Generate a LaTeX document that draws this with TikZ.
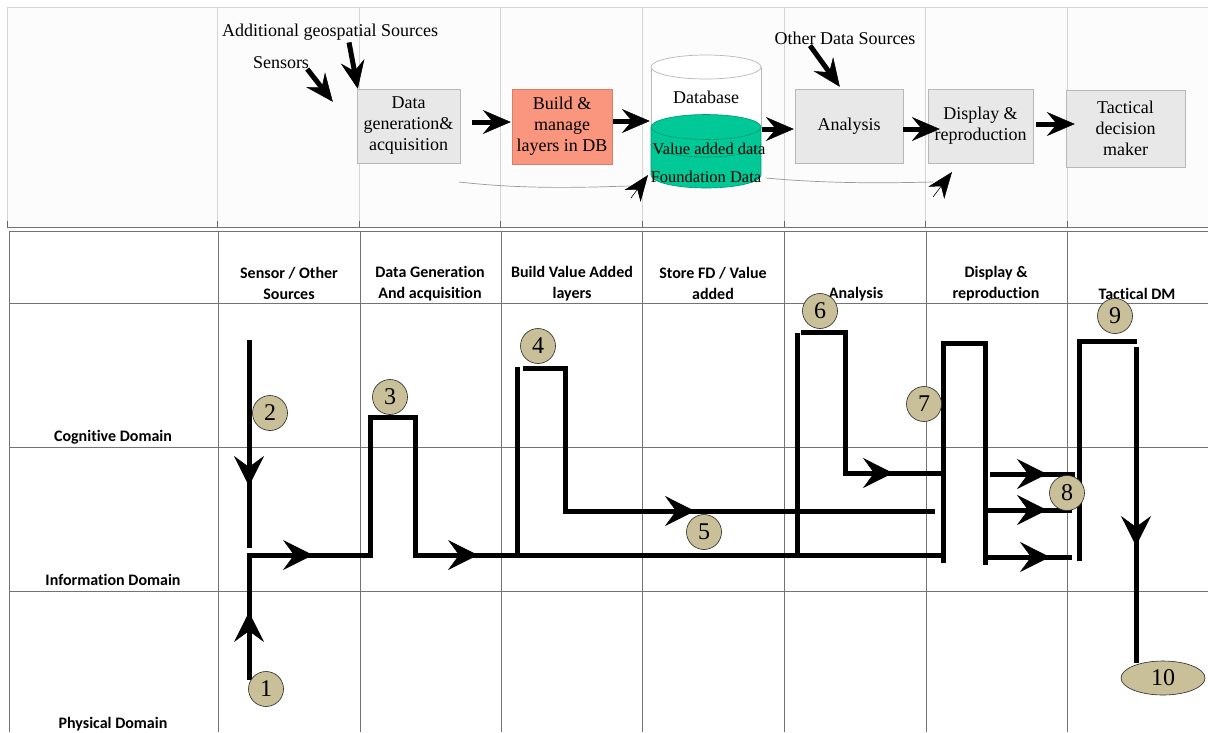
\documentclass[tikz,border=0pt]{standalone}
\usepackage{fontspec}
\setmainfont{Liberation Serif}
\newfontfamily\hdrfont{Carlito}[Ligatures=NoCommon]
\usetikzlibrary{arrows.meta,calc,shapes.geometric}
\definecolor{khaki}{RGB}{201,191,153}
\definecolor{salmon}{RGB}{250,150,125}
\definecolor{salmonedge}{RGB}{215,125,105}
\definecolor{dbgreen}{RGB}{0,200,150}
\definecolor{dbedge}{RGB}{0,150,110}
\definecolor{boxgrey}{RGB}{232,232,232}
\tikzset{
  topgrid/.style={draw=black!17, line width=0.8pt},
  grid/.style={draw=black!55, line width=0.9pt},
  procbox/.style={draw=black!28, fill=boxgrey, align=center, inner sep=0pt,
    font=\fontsize{18}{21}\selectfont},
  srclabel/.style={font=\fontsize{18}{21}\selectfont, inner sep=0pt},
  hdr/.style={font=\hdrfont\bfseries\fontsize{16}{21}\selectfont, align=center, inner sep=0pt},
  toparrow/.style={line width=5pt, -{Stealth[length=28pt,width=24pt,inset=10pt,line width=0.5pt]}},
  flow/.style={line width=5pt},
  flowtip/.style={line width=5pt, -{Stealth[length=30pt,width=30pt,inset=11pt,line width=0.5pt]}},
  thinlink/.style={line width=0.7pt, draw=black!40},
  linkhead/.style={line width=0.6pt, -{Stealth[length=26pt,width=20pt,inset=8pt,line width=0.5pt]}},
  num/.style={circle, draw=black!85, line width=0.6pt, fill=khaki, minimum size=35pt,
    inner sep=0pt, font=\fontsize{24}{24}\selectfont},
}
\begin{document}
\begin{tikzpicture}[x=1pt,y=-1pt]
\useasboundingbox (0,0) rectangle (1208,732);
\fill[white] (0,0) rectangle (1208,732);

% ---------- process overview panel ----------
\fill[black!1] (7,7) rectangle (1208,227);
\draw[topgrid] (7,227) -- (7,7) -- (1208,7);
\foreach \x in {217,359,500,642,784,925,1067}
  \draw[topgrid] (\x,7) -- (\x,227);
\draw[black!55, line width=1pt] (7,227) -- (1208,227);
\foreach \x in {7,217,359,500,642,784,925,1067}
  \draw[black!60, line width=1pt] (\x,221) -- (\x,227);

% ---------- domain table ----------
\foreach \y in {231,303,447,591}
  \draw[grid] (9,\y) -- (1208,\y);
\foreach \x in {9,218,360,501,642,784,926,1067}
  \draw[grid] (\x,231) -- (\x,732);

\node[hdr] (h1) at (289,283.5) {Sensor / Other\\Sources};
\node[hdr] (h2) at (430,283.5) {Data Generation\\And acquisition};
\node[hdr] (h3) at (572,283.5) {Build Value Added\\layers};
\node[hdr] (h4) at (713,283.5) {Store FD / Value\\added};
\node[hdr] (h5) at (856,294) {Analysis};
\node[hdr] (h6) at (996,283.5) {Display \&\\reproduction};
\node[hdr] (h7) at (1137,294) {Tactical DM};

\node[hdr] (dcog) at (113,437) {Cognitive Domain};
\node[hdr] (dinf) at (113,580) {Information Domain};
\node[hdr] (dphy) at (113,724) {Physical Domain};

% ---------- process boxes ----------
\node[procbox, minimum width=103pt, minimum height=74pt] (dga) at (408.5,126) {Data\\generation\&\\acquisition};
\node[procbox, fill=salmon, draw=salmonedge, minimum width=100pt, minimum height=75pt] (bml) at (562,126.5) {Build \&\\manage\\layers in DB};
\node[procbox, minimum width=108pt, minimum height=74pt] (ana) at (849,126) {Analysis};
\node[procbox, minimum width=105pt, minimum height=74pt] (dis) at (980.5,126) {Display \&\\reproduction};
\node[procbox, minimum width=119pt, minimum height=77pt] (tac) at (1125.5,128.5) {Tactical\\decision\\maker};

% database cylinder
\node[minimum width=110pt, minimum height=133pt, inner sep=0pt] (db) at (706,121.5) {};
\fill[white] (651,67) rectangle (761,127);
\draw[black!28, line width=0.7pt] (651,67) -- (651,127) (761,67) -- (761,127);
\draw[black!28, line width=0.7pt, fill=white] (706,67) ellipse [x radius=55pt, y radius=12pt];
\fill[dbgreen] (651,127) rectangle (761,175);
\fill[dbgreen] (706,175) ellipse [x radius=55pt, y radius=13pt];
\draw[dbedge, line width=0.6pt] (651,127) -- (651,175)
  arc[start angle=180, end angle=360, x radius=55pt, y radius=13pt] -- (761,127);
\draw[dbedge, line width=0.6pt] (651,144)
  arc[start angle=180, end angle=360, x radius=55pt, y radius=13pt];
\draw[dbedge, line width=0.6pt, fill=dbgreen] (706,127) ellipse [x radius=55pt, y radius=12.5pt];
\node[srclabel] (dbname) at (706,97) {Database};
\node[srclabel, font=\fontsize{16.5}{18}\selectfont] (dbvad) at (709,149) {Value added data};
\node[srclabel, font=\fontsize{16.5}{18}\selectfont] (dbfd) at (706,177) {Foundation Data};

% source labels
\node[srclabel] (addsrc) at (330,32) {Additional geospatial Sources};
\node[srclabel] (sens) at (281,63) {Sensors};
\node[srclabel] (oth) at (845,38) {Other Data Sources};

% process arrows
\draw[toparrow] ($(sens.east)+(-2,6)$) -- ($(dga.north west)+(-24,13)$);
\draw[toparrow] ($(addsrc.south)+(19,2)$) -- ($(dga.north west)+(1,0)$);
\draw[toparrow] ($(oth.south)+(-35,1)$) -- ($(ana.north west)+(45,-2)$);
\draw[toparrow] ($(dga.east)+(12,-4)$) -- ($(bml.west)+(-1,-4.5)$);
\draw[toparrow] ($(bml.east)+(1,-5.5)$) -- ($(db.west)+(-1,-0.5)$);
\draw[toparrow] ($(db.east)+(1,7.5)$) -- ($(ana.west)+(-1,3)$);
\draw[toparrow] ($(ana.east)+(0,3)$) -- ($(dis.west)+(12,3)$);
\draw[toparrow] ($(dis.east)+(3,-2)$) -- ($(tac.west)+(9,-4.5)$);

% thin feedback links with heads
\coordinate (l1s) at (459,182);
\coordinate (l1e) at (630,186);
\coordinate (l1h) at (631,198);
\coordinate (l1t) at (648,175);
\draw[thinlink] (l1s) .. controls (530,190) and (590,187) .. (l1e);
\draw[linkhead] (l1h) -- (l1t);
\coordinate (l2s) at (766,178);
\coordinate (l2e) at (933,182);
\coordinate (l2h) at (933,197);
\coordinate (l2t) at (952,172);
\draw[thinlink] (l2s) .. controls (830,184) and (890,183) .. (l2e);
\draw[linkhead] (l2h) -- (l2t);

% ---------- information flow ----------
% 1 -> 3 -> along the information domain
\coordinate (a0) at (249,680);
\coordinate (a1) at (249,555);
\coordinate (a2) at (370,555);
\coordinate (a3) at (370,417);
\coordinate (a4) at (415,417);
\coordinate (a5) at (415,555);
\coordinate (a6) at (945,555);
\draw[flow] (a0) -- (a1) -- (a2) -- (a3) -- (a4) -- (a5) -- (a6);
\coordinate (t1) at (249,612);
\coordinate (t2) at (313,555);
\coordinate (t3) at (478,555);
\draw[flowtip] (a0) -- (t1);
\draw[flowtip] (a1) -- (t2);
\draw[flowtip] (a5) -- (t3);

% 2
\coordinate (b0) at (249,340);
\coordinate (b1) at (249,548);
\coordinate (tb) at (249,486);
\draw[flow] (b0) -- (b1);
\draw[flowtip] (b0) -- (tb);

% 4 -> 5
\coordinate (c0) at (517,367);
\coordinate (c1) at (517,557);
\draw[flow] (c0) -- (c1);
\coordinate (d0) at (523,368);
\coordinate (d1) at (565,368);
\coordinate (d2) at (565,511);
\coordinate (d3) at (935,511);
\coordinate (td) at (695,511);
\draw[flow] (d0) -- (d1) -- (d2) -- (d3);
\draw[flowtip] (d2) -- (td);

% 6
\coordinate (e0) at (797,333);
\coordinate (e1) at (797,555);
\draw[flow] (e0) -- (e1);
\coordinate (f0) at (801,332);
\coordinate (f1) at (845,332);
\coordinate (f2) at (845,473);
\coordinate (f3) at (942,473);
\coordinate (tf) at (893,473);
\draw[flow] (f0) -- (f1) -- (f2) -- (f3);
\draw[flowtip] (f2) -- (tf);

% 7
\coordinate (g0) at (943,563);
\coordinate (g1) at (943,343);
\coordinate (g2) at (985,343);
\coordinate (g3) at (985,565);
\draw[flow] (g0) -- (g1) -- (g2) -- (g3);

% 7 -> 8
\coordinate (k1s) at (990,474);
\coordinate (k1e) at (1075,474);
\coordinate (k1t) at (1047,474);
\coordinate (k2s) at (985,510);
\coordinate (k2e) at (1072,510);
\coordinate (k2t) at (1047,510);
\coordinate (k3s) at (985,557);
\coordinate (k3e) at (1072,557);
\coordinate (k3t) at (1050,557);
\draw[flow] (k1s) -- (k1e);
\draw[flow] (k2s) -- (k2e);
\draw[flow] (k3s) -- (k3e);
\draw[flowtip] (k1s) -- (k1t);
\draw[flowtip] (k2s) -- (k2t);
\draw[flowtip] (k3s) -- (k3t);

% 9 -> 10
\coordinate (m0) at (1079,561);
\coordinate (m1) at (1079,341);
\coordinate (m2) at (1137,341);
\draw[flow] (m0) -- (m1) -- (m2);
\coordinate (p0) at (1136,347);
\coordinate (p1) at (1136,663);
\coordinate (tp) at (1136,546);
\draw[flow] (p0) -- (p1);
\draw[flowtip] (p0) -- (tp);

% numbered steps
\node[num] (n1) at (266,689) {1};
\node[num] (n2) at (270,413) {2};
\node[num] (n3) at (390,397) {3};
\node[num] (n4) at (538,346) {4};
\node[num] (n5) at (704,532) {5};
\node[num] (n6) at (820,311) {6};
\node[num] (n7) at (924,404) {7};
\node[num] (n8) at (1067,493) {8};
\node[num] (n9) at (1115,316) {9};
\node[num, ellipse, minimum width=84pt, minimum height=34pt] (n10) at (1163,678) {10};
\end{tikzpicture}
\end{document}
